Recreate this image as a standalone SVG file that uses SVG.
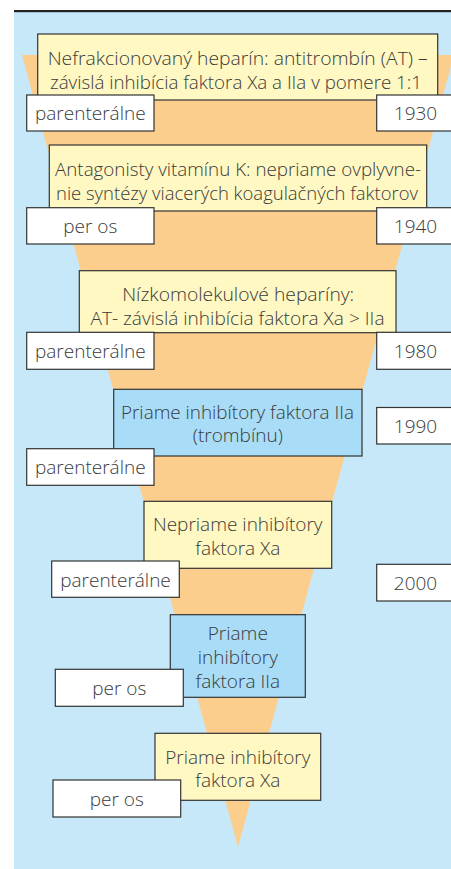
<svg xmlns="http://www.w3.org/2000/svg" width="451" height="869" viewBox="0 0 451 869">
<style>
.t{font-family:"Open Sans","Noto Sans","DejaVu Sans",sans-serif;font-weight:300;font-size:19px;fill:#3a3a3a;text-anchor:middle}
.y{fill:#FFF8C2;stroke:#333;stroke-width:1.2}
.b{fill:#A9DDF7;stroke:#333;stroke-width:1.2}
.w{fill:#fff;stroke:#333;stroke-width:1.2}
</style>
<rect x="0" y="0" width="451" height="869" fill="#fff"/>
<rect x="14" y="12" width="437" height="857" fill="#C6E8F8"/>
<rect x="14" y="10" width="437" height="2.2" fill="#222"/>
<polygon points="22,55 454,55 238,847" fill="#FCCE8E"/>
<g id="n1"><rect class="y" x="37.7" y="34" width="400" height="66"/>
<text class="t" x="237.7" y="65" textLength="380" lengthAdjust="spacingAndGlyphs">Nefrakcionovaný heparín: antitrombín (AT) –</text>
<text class="t" x="236" y="89" textLength="372" lengthAdjust="spacingAndGlyphs">závislá inhibícia faktora Xa a IIa v pomere 1:1</text></g>
<g id="n2"><rect class="y" x="49.3" y="145" width="377.4" height="66"/>
<text class="t" x="238" y="176" textLength="366" lengthAdjust="spacingAndGlyphs">Antagonisty vitamínu K: nepriame ovplyvne-</text>
<text class="t" x="237" y="199.5" textLength="362" lengthAdjust="spacingAndGlyphs">nie syntézy viacerých koagulačných faktorov</text></g>
<g id="n3"><rect class="y" x="79.3" y="270.7" width="316.7" height="62"/>
<text class="t" x="238.2" y="301" textLength="232" lengthAdjust="spacingAndGlyphs">Nízkomolekulové heparíny:</text>
<text class="t" x="237.5" y="324.5" textLength="294" lengthAdjust="spacingAndGlyphs">AT- závislá inhibícia faktora Xa &gt; IIa</text></g>
<g id="n4"><rect class="b" x="113.7" y="389.3" width="248.3" height="66.7"/>
<text class="t" x="237.5" y="418.5" textLength="233" lengthAdjust="spacingAndGlyphs">Priame inhibítory faktora IIa</text>
<text class="t" x="237.8" y="442">(trombínu)</text></g>
<g id="n5"><rect class="y" x="144" y="501.3" width="187.7" height="67"/>
<text class="t" x="237.8" y="531">Nepriame inhibítory</text>
<text class="t" x="237.8" y="554.5">faktora Xa</text></g>
<g id="n6"><rect class="b" x="170.3" y="614.7" width="135" height="82.6"/>
<text class="t" x="237.8" y="640">Priame</text>
<text class="t" x="237.8" y="664">inhibítory</text>
<text class="t" x="237.8" y="687.5">faktora IIa</text></g>
<g id="n7"><rect class="y" x="155" y="733.3" width="165.7" height="67"/>
<text class="t" x="237.8" y="763.5">Priame inhibítory</text>
<text class="t" x="237.8" y="787">faktora Xa</text></g>
<g id="l1"><rect class="w" x="26.7" y="95" width="127.3" height="36"/><text class="t" x="90.3" y="120">parenterálne</text></g>
<g id="y1"><rect class="w" x="376.7" y="95" width="78" height="36"/><text class="t" x="415.5" y="120">1930</text></g>
<g id="l2"><rect class="w" x="26.7" y="207.7" width="127.3" height="36.3"/><text class="t" x="90.3" y="233">per os</text></g>
<g id="y2"><rect class="w" x="376.7" y="207.7" width="78" height="36.3"/><text class="t" x="415.5" y="233">1940</text></g>
<g id="l3"><rect class="w" x="26.7" y="332.3" width="127.3" height="37"/><text class="t" x="90.3" y="358">parenterálne</text></g>
<g id="y3"><rect class="w" x="376.7" y="332.3" width="78" height="37"/><text class="t" x="415.5" y="358">1980</text></g>
<g id="y4"><rect class="w" x="376.7" y="407.5" width="78" height="36.5"/><text class="t" x="415.5" y="433">1990</text></g>
<g id="l4"><rect class="w" x="26.7" y="448.7" width="127.3" height="36.6"/><text class="t" x="90.3" y="474">parenterálne</text></g>
<g id="l5"><rect class="w" x="51.7" y="561" width="127.6" height="36.3"/><text class="t" x="115.5" y="586.5">parenterálne</text></g>
<g id="y5"><rect class="w" x="376.7" y="564.3" width="78" height="36.7"/><text class="t" x="415.5" y="590">2000</text></g>
<g id="l6"><rect class="w" x="55.3" y="669.3" width="128" height="37"/><text class="t" x="119.3" y="695">per os</text></g>
<g id="l7"><rect class="w" x="53" y="780" width="127.7" height="37"/><text class="t" x="116.8" y="805.5">per os</text></g>
</svg>
